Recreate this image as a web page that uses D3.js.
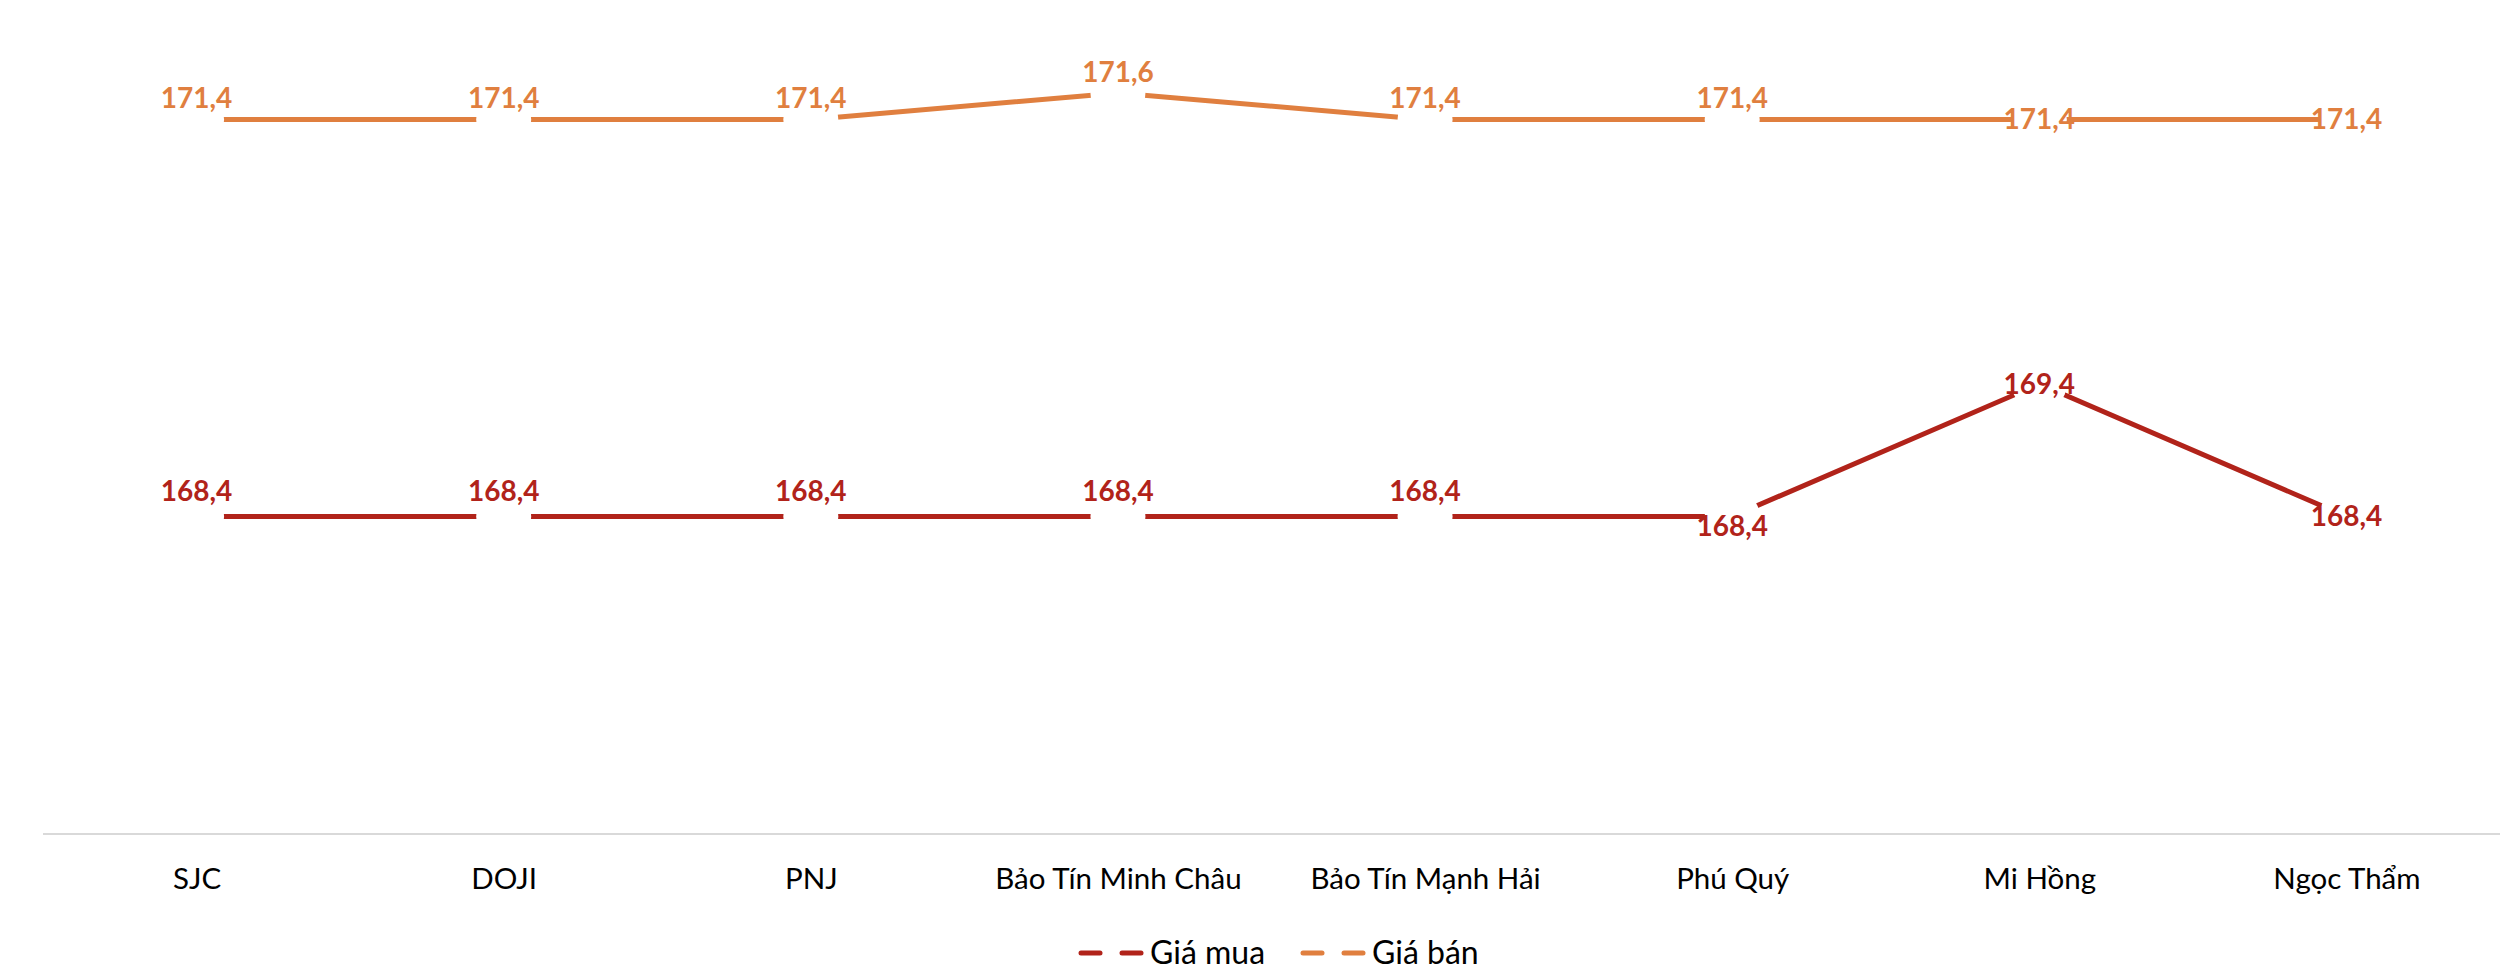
<!DOCTYPE html>
<html>
<head>
<meta charset="utf-8">
<script src="https://cdn.jsdelivr.net/npm/d3@7"></script>
<style>
  html, body { margin: 0; padding: 0; background: #fff; }
  svg { display: block; }
</style>
</head>
<body>
<svg id="chart" width="2516" height="978"></svg>
<script>
// ---- data ----
const categories = ["SJC", "DOJI", "PNJ", "Bảo Tín Minh Châu", "Bảo Tín Mạnh Hải", "Phú Quý", "Mi Hồng", "Ngọc Thẩm"];
const buyPrices  = [168.4, 168.4, 168.4, 168.4, 168.4, 168.4, 169.4, 168.4];
const sellPrices = [171.4, 171.4, 171.4, 171.6, 171.4, 171.4, 171.4, 171.4];
const seriesNames = ["Giá mua", "Giá bán"];
// label placement keywords (presentation config)
const buyLabelPlacement  = ["above","above","above","above","above","below","center","center"];
const sellLabelPlacement = ["above","above","above","above","above","above","center","center"];

// ---- layout ----
const W = 2516, H = 978;
const plot = { left: 43, right: 2500, top: 40, bottom: 834 };
const colors = { buy: "#B1231A", sell: "#E07F3F" };
const fontFamily = "Lato, 'Open Sans', sans-serif";

const svg = d3.select("#chart");

const x = d3.scalePoint().domain(categories).range([plot.left, plot.right]).padding(0.5);
const y = d3.scaleLinear().domain([166, 172]).range([plot.bottom, plot.top]);

// axis
const xAxis = d3.axisBottom(x).tickSize(0).tickPadding(0);
const gx = svg.append("g").attr("transform", `translate(0,${plot.bottom})`).call(xAxis);
gx.select(".domain").attr("stroke", "#D9D9D9").attr("stroke-width", 2.2)
  .attr("d", `M${plot.left},0H${plot.right}`);
gx.selectAll(".tick text")
  .attr("y", 55)
  .attr("dy", 0)
  .attr("font-family", fontFamily)
  .attr("font-size", 29.5)
  .attr("fill", "#000");

const series = [
  { key: "buy",  name: seriesNames[0], values: buyPrices,  placement: buyLabelPlacement,  color: colors.buy,  above: -15 },
  { key: "sell", name: seriesNames[1], values: sellPrices, placement: sellLabelPlacement, color: colors.sell, above: -11 }
];

const line = d3.line().x((d, i) => x(categories[i])).y(d => y(d));

// lines
series.forEach(s => {
  svg.append("path")
    .datum(s.values)
    .attr("fill", "none")
    .attr("stroke", s.color)
    .attr("stroke-width", 5)
    .attr("d", line);
});

// white markers (gaps)
series.forEach(s => {
  svg.append("g").selectAll("circle")
    .data(s.values)
    .join("circle")
    .attr("cx", (d, i) => x(categories[i]))
    .attr("cy", d => y(d))
    .attr("r", 27.5)
    .attr("fill", "#fff");
});

// labels
const fmt = v => d3.format(".1f")(v).replace(".", ",");
series.forEach(s => {
  svg.append("g").selectAll("text")
    .data(s.values)
    .join("text")
    .attr("x", (d, i) => x(categories[i]))
    .attr("y", (d, i) => {
      const p = s.placement[i];
      if (p === "above") return y(d) + s.above;
      if (p === "below") return y(d) + 20;
      return y(d) + 10;
    })
    .attr("text-anchor", "middle")
    .attr("font-family", fontFamily)
    .attr("font-weight", "bold")
    .attr("font-size", 28)
    .attr("fill", s.color)
    .text(d => fmt(d));
});

// legend
const legendY = 953;
const legendItems = [
  { name: seriesNames[0], color: colors.buy,  x0: 1079, tx: 1150 },
  { name: seriesNames[1], color: colors.sell, x0: 1301, tx: 1372 }
];
const lg = svg.append("g");
legendItems.forEach(it => {
  lg.append("line").attr("x1", it.x0 + 2).attr("x2", it.x0 + 21).attr("y1", legendY).attr("y2", legendY)
    .attr("stroke", it.color).attr("stroke-width", 5).attr("stroke-linecap", "round");
  lg.append("line").attr("x1", it.x0 + 43).attr("x2", it.x0 + 62).attr("y1", legendY).attr("y2", legendY)
    .attr("stroke", it.color).attr("stroke-width", 5).attr("stroke-linecap", "round");
  lg.append("text").attr("x", it.tx).attr("y", 964)
    .attr("font-family", fontFamily).attr("font-size", 32).attr("fill", "#000")
    .text(it.name);
});
</script>
</body>
</html>
